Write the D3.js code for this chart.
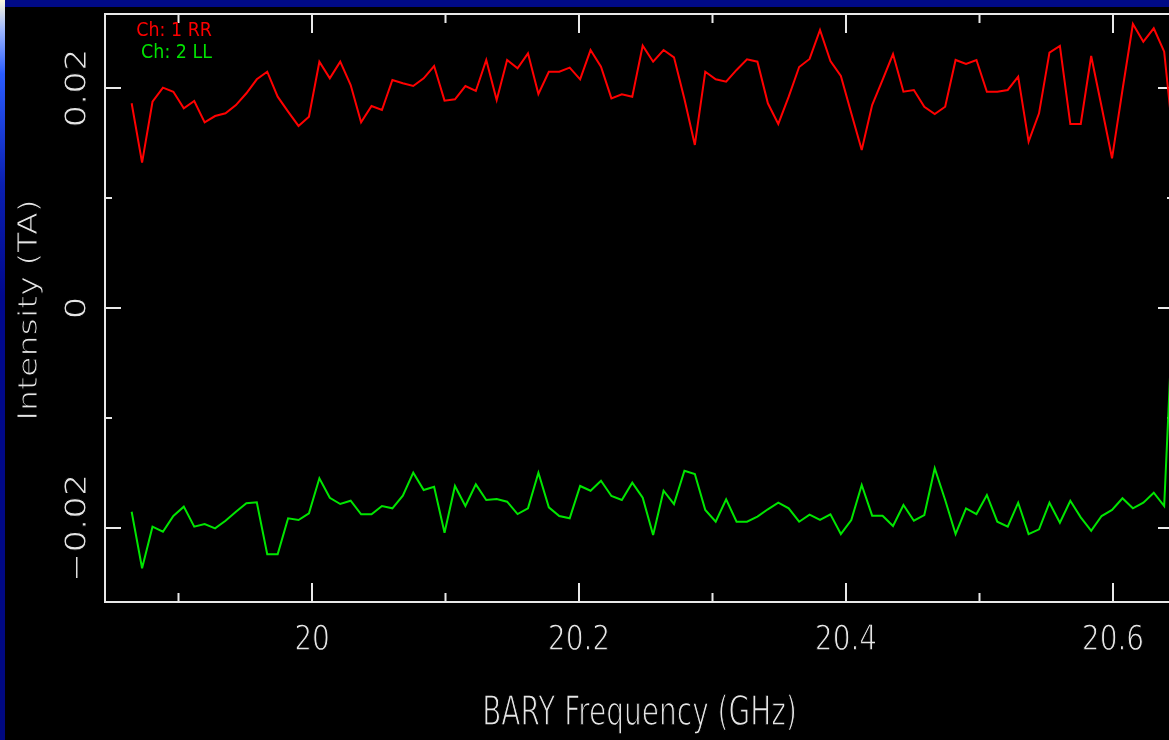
<!DOCTYPE html>
<html>
<head>
<meta charset="utf-8">
<script src="https://cdn.jsdelivr.net/npm/d3@7"></script>
<style>
  html, body { margin: 0; padding: 0; background: #000; overflow: hidden; }
  text { font-family: "DejaVu Sans", sans-serif; }
  .labels { opacity: 0.99; }
</style>
</head>
<body>
<div class="canvas"></div>
<script>
// spectral axis: first channel and channel width (GHz)
const chanStart = 19.8649
const chanWidth = 0.0078125

// Ch 1 RR (TA)
const rr = [
  0.01861, 0.01321, 0.01875, 0.02003, 0.01966, 0.01815, 0.01882, 0.01688, 0.01745, 0.01770,
  0.01845, 0.01952, 0.02079, 0.02148, 0.01921, 0.01785, 0.01655, 0.01739, 0.02239, 0.02088,
  0.02239, 0.02027, 0.01688, 0.01836, 0.01800, 0.02073, 0.02043, 0.02018, 0.02088, 0.02200,
  0.01885, 0.01897, 0.02018, 0.01973, 0.02255, 0.01891, 0.02255, 0.02179, 0.02315, 0.01945,
  0.02148, 0.02148, 0.02185, 0.02079, 0.02345, 0.02194, 0.01906, 0.01943, 0.01921, 0.02385,
  0.02239, 0.02345, 0.02279, 0.01900, 0.01482, 0.02148, 0.02079, 0.02057, 0.02164, 0.02261,
  0.02239, 0.01861, 0.01673, 0.01921, 0.02191, 0.02264, 0.02527, 0.02245, 0.02109, 0.01770,
  0.01436, 0.01845, 0.02073, 0.02309, 0.01966, 0.01982, 0.01830, 0.01764, 0.01830, 0.02255,
  0.02218, 0.02255, 0.01966, 0.01966, 0.01982, 0.02103, 0.01512, 0.01770, 0.02321, 0.02382,
  0.01673, 0.01673, 0.02291, 0.01830, 0.01361, 0.01982, 0.02582, 0.02421, 0.02543, 0.02330,
  0.01409
]

// Ch 2 LL (TA)
const ll = [
  -0.01852, -0.02366, -0.01988, -0.02034, -0.01891, -0.01806, -0.01988, -0.01964, -0.02003, -0.01934,
  -0.01852, -0.01775, -0.01766, -0.02239, -0.02239, -0.01912, -0.01927, -0.01866, -0.01548, -0.01725,
  -0.01782, -0.01752, -0.01875, -0.01875, -0.01800, -0.01821, -0.01706, -0.01497, -0.01655, -0.01625,
  -0.02043, -0.01618, -0.01800, -0.01603, -0.01745, -0.01736, -0.01761, -0.01873, -0.01821, -0.01497,
  -0.01812, -0.01891, -0.01912, -0.01618, -0.01661, -0.01570, -0.01709, -0.01745, -0.01588, -0.01725,
  -0.02064, -0.01661, -0.01782, -0.01479, -0.01509, -0.01836, -0.01943, -0.01739, -0.01943, -0.01943,
  -0.01897, -0.01830, -0.01770, -0.01821, -0.01943, -0.01879, -0.01927, -0.01875, -0.02055, -0.01927,
  -0.01609, -0.01888, -0.01888, -0.01982, -0.01791, -0.01934, -0.01882, -0.01457, -0.01745, -0.02055,
  -0.01821, -0.01873, -0.01700, -0.01943, -0.01988, -0.01770, -0.02055, -0.02012, -0.01770, -0.01952,
  -0.01752, -0.01903, -0.02025, -0.01891, -0.01836, -0.01730, -0.01821, -0.01770, -0.01679, -0.01800,
  0.00300
]

const seriesLabels = ['Ch: 1 RR', 'Ch: 2 LL']
const seriesColors = ['#ff0000', '#00e600']

const xMajor = [20, 20.2, 20.4, 20.6]
const xLabels = ['20', '20.2', '20.4', '20.6']
const xMinor = [19.9, 20.1, 20.3, 20.5]
const yMajor = [-0.02, 0, 0.02]
const yLabels = ['\u22120.02', '0', '0.02']
const yMinor = [-0.01, 0.01]

const xTitle = 'BARY Frequency (GHz)'
const yTitle = 'Intensity (TA)'

const dims = { width: 1169, height: 740 }
const plot = { left: 105, right: 1174, top: 14, bottom: 602 }
const axisColor = '#e8e8e8'

const svg = d3.select('.canvas')
    .append('svg')
    .attr('width', dims.width)
    .attr('height', dims.height)

// slide background: black, navy band on top, gradient strip on the left
const defs = svg.append('defs')
const grad = defs.append('linearGradient')
    .attr('id', 'edge')
    .attr('x1', 0).attr('y1', 0).attr('x2', 0).attr('y2', 1)
grad.selectAll('stop')
    .data([[0, '#fbf8dc'], [0.04, '#9fb8ff'], [0.1, '#2a5cff'], [0.25, '#0a1fb0'], [0.4, '#00088c'], [1, '#000880']])
    .enter().append('stop')
    .attr('offset', d => d[0])
    .attr('stop-color', d => d[1])

defs.append('clipPath').attr('id', 'plotclip')
    .append('rect')
    .attr('x', plot.left).attr('y', plot.top)
    .attr('width', plot.right - plot.left).attr('height', plot.bottom - plot.top)

svg.append('rect').attr('width', dims.width).attr('height', dims.height).attr('fill', '#000')
svg.append('rect').attr('width', dims.width).attr('height', 7).attr('fill', '#000a86')
svg.append('rect').attr('width', 5).attr('height', dims.height).attr('fill', 'url(#edge)')

const x = d3.scaleLinear()
    .domain([19.84494, 20.64569])
    .range([plot.left, plot.right])

const y = d3.scaleLinear()
    .domain([-0.026727, 0.026727])
    .range([plot.bottom, plot.top])

const freq = rr.map((d, i) => chanStart + i * chanWidth)

// frame
svg.append('rect')
    .attr('x', plot.left).attr('y', plot.top)
    .attr('width', plot.right - plot.left).attr('height', plot.bottom - plot.top)
    .attr('fill', 'none')
    .attr('stroke', axisColor)
    .attr('stroke-width', 2)

// inward ticks on all four sides
const ticks = (axis, values, size, transform) => {
    svg.append('g')
        .attr('transform', transform)
        .call(axis.tickValues(values).tickSize(size).tickFormat('').offset(0))
        .call(g => g.select('.domain').remove())
        .selectAll('line')
        .attr('stroke', axisColor)
        .attr('stroke-width', 2)
}

ticks(d3.axisBottom(x), xMajor, -19, `translate(0, ${plot.bottom})`)
ticks(d3.axisBottom(x), xMinor, -9, `translate(0, ${plot.bottom})`)
ticks(d3.axisTop(x), xMajor, -19, `translate(0, ${plot.top})`)
ticks(d3.axisTop(x), xMinor, -9, `translate(0, ${plot.top})`)
ticks(d3.axisLeft(y), yMajor, -16, `translate(${plot.left}, 0)`)
ticks(d3.axisLeft(y), yMinor, -7, `translate(${plot.left}, 0)`)
ticks(d3.axisRight(y), yMajor, -16, `translate(${plot.right}, 0)`)
ticks(d3.axisRight(y), yMinor, -7, `translate(${plot.right}, 0)`)

// labels: white glyphs thinned by a black stroke, to look like the plotter font
const labels = svg.append('g').attr('class', 'labels')

const thin = sel => sel
    .attr('fill', axisColor)
    .attr('stroke', '#000')
    .attr('stroke-width', 1.0)

labels.append('g').selectAll('text')
    .data(xMajor)
    .enter().append('text')
    .attr('transform', d => `translate(${x(d)}, 650) scale(1, 1.25)`)
    .attr('text-anchor', 'middle')
    .style('font-size', '28px')
    .text((d, i) => xLabels[i])
    .call(thin)

labels.append('g').selectAll('text')
    .data(yMajor)
    .enter().append('text')
    .attr('transform', d => `translate(85.5, ${y(d)}) rotate(-90) scale(1.2, 1)`)
    .attr('text-anchor', 'middle')
    .style('font-size', '29.5px')
    .text((d, i) => yLabels[i])
    .call(thin)

labels.append('text')
    .attr('transform', `translate(${(plot.left + plot.right) / 2}, 725) scale(1, 1.45)`)
    .attr('text-anchor', 'middle')
    .style('font-size', '28px')
    .text(xTitle)
    .call(thin)

labels.append('text')
    .attr('transform', `translate(37, 310) rotate(-90) scale(1.25, 1)`)
    .attr('text-anchor', 'middle')
    .style('font-size', '26.6px')
    .text(yTitle)
    .call(thin)

// spectra
const line = d3.line()
    .x((d, i) => x(freq[i]))
    .y(d => y(d))

const lines = svg.append('g').attr('clip-path', 'url(#plotclip)')

lines.selectAll('path')
    .data([rr, ll])
    .enter().append('path')
    .attr('d', line)
    .attr('fill', 'none')
    .attr('stroke', (d, i) => seriesColors[i])
    .attr('stroke-width', 2)

// legend, right aligned in the top left corner
labels.append('g').selectAll('text')
    .data(seriesLabels)
    .enter().append('text')
    .attr('transform', (d, i) => `translate(212, ${36 + i * 22}) scale(1, 1.1)`)
    .attr('text-anchor', 'end')
    .style('font-size', '17.5px')
    .attr('fill', (d, i) => seriesColors[i])
    .text(d => d)
</script>
</body>
</html>
